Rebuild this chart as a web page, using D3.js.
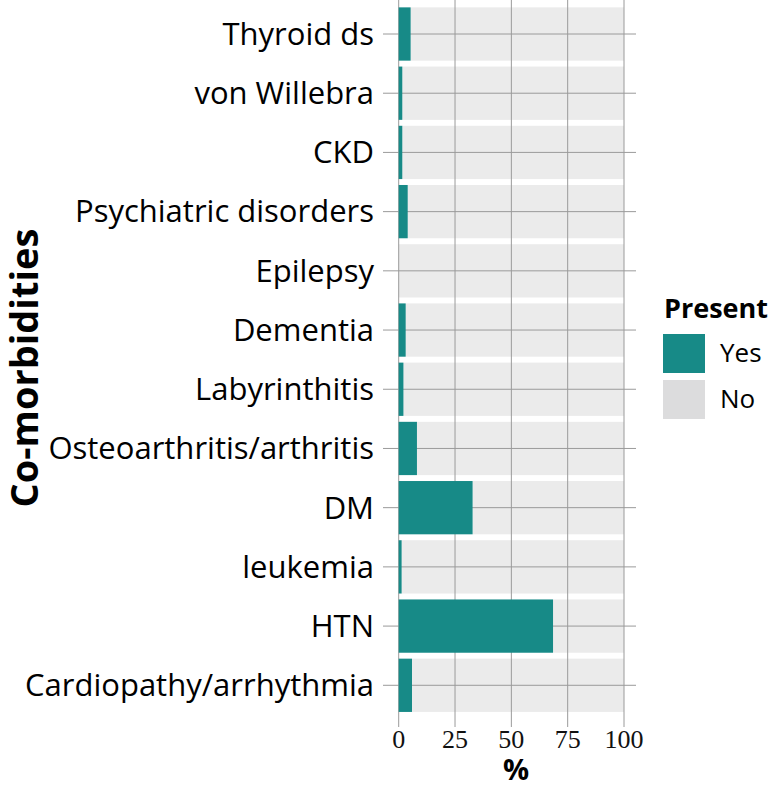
<!DOCTYPE html>
<html><head><meta charset="utf-8">
<script src="https://cdn.jsdelivr.net/npm/d3@7"></script>
<style>body{margin:0;background:#fff}svg{display:block}</style>
</head><body>
<svg id="c" width="771" height="785"></svg>
<script>
const categories = ["Thyroid ds","von Willebra","CKD","Psychiatric disorders ","Epilepsy","Dementia","Labyrinthitis","Osteoarthritis/arthritis","DM","leukemia","HTN","Cardiopathy/arrhythmia"];
const yesValues = [5.3,1.6,1.6,4.0,0,3.1,2.1,8.1,32.8,1.3,68.5,5.9];
const xTicks = [0,25,50,75,100];
const legendLabels = ["Yes","No"];

const svg = d3.select("#c");
const x = d3.scaleLinear().domain([0,100]).range([398.7,624]);
const y = d3.scaleBand().domain(categories).range([4.4,714.9]).paddingInner(0.1).paddingOuter(0.05);
const color = d3.scaleOrdinal().domain(legendLabels).range(["#178a87","#dcdcdd"]);
const sans = "'Open Sans', sans-serif";

// No bars (background to 100)
svg.append("g").selectAll("rect").data(categories).join("rect")
  .attr("x", (d,i)=>x(yesValues[i])).attr("width",(d,i)=>x(100)-x(yesValues[i]))
  .attr("y", d=>y(d)).attr("height", y.bandwidth()).attr("fill","#ebebeb");

// gridlines
const grid = svg.append("g").attr("stroke","#9a9a9a").attr("stroke-width",1);
grid.selectAll("line.v").data(xTicks).join("line").attr("class","v")
  .attr("x1",d=>x(d)).attr("x2",d=>x(d)).attr("y1",0).attr("y2",727);
grid.selectAll("line.h").data(categories).join("line").attr("class","h")
  .attr("x1",383).attr("x2",636).attr("y1",d=>y(d)+y.bandwidth()/2).attr("y2",d=>y(d)+y.bandwidth()/2);

// Yes bars
svg.append("g").selectAll("rect").data(categories).join("rect")
  .attr("x", x(0)).attr("width",(d,i)=>x(yesValues[i])-x(0))
  .attr("y", d=>y(d)).attr("height", y.bandwidth()).attr("fill",color("Yes"));

// y labels
svg.append("g").selectAll("text").data(categories).join("text")
  .attr("x",374).attr("y",d=>y(d)+y.bandwidth()/2).attr("dy","0.35em")
  .attr("text-anchor","end").attr("font-family",sans).attr("font-size",31).attr("fill","#000")
  .text(d=>d);

// x tick labels
svg.append("g").selectAll("text").data(xTicks).join("text")
  .attr("x",d=>x(d)).attr("y",748).attr("text-anchor","middle")
  .attr("font-family","'Liberation Serif', serif").attr("font-size",26).attr("fill","#111")
  .text(d=>d);

// axis titles
svg.append("text").attr("x",516).attr("y",780).attr("text-anchor","middle")
  .attr("font-family",sans).attr("font-weight","bold").attr("font-size",29).text("%");
svg.append("text").attr("transform","translate(38,368) rotate(-90)").attr("text-anchor","middle")
  .attr("font-family",sans).attr("font-weight","bold").attr("font-size",38).text("Co-morbidities");

// legend
const lg = svg.append("g");
lg.append("text").attr("x",664).attr("y",318).attr("font-family",sans).attr("font-weight","bold")
  .attr("font-size",27).text("Present");
lg.selectAll("rect").data(legendLabels).join("rect")
  .attr("x",663).attr("y",(d,i)=>334+i*46).attr("width",42).attr("height",39).attr("fill",d=>color(d));
lg.selectAll("text.l").data(legendLabels).join("text").attr("class","l")
  .attr("x",720).attr("y",(d,i)=>353+i*46).attr("dy","0.35em").attr("font-family",sans)
  .attr("font-size",26).text(d=>d);
</script>
</body></html>
